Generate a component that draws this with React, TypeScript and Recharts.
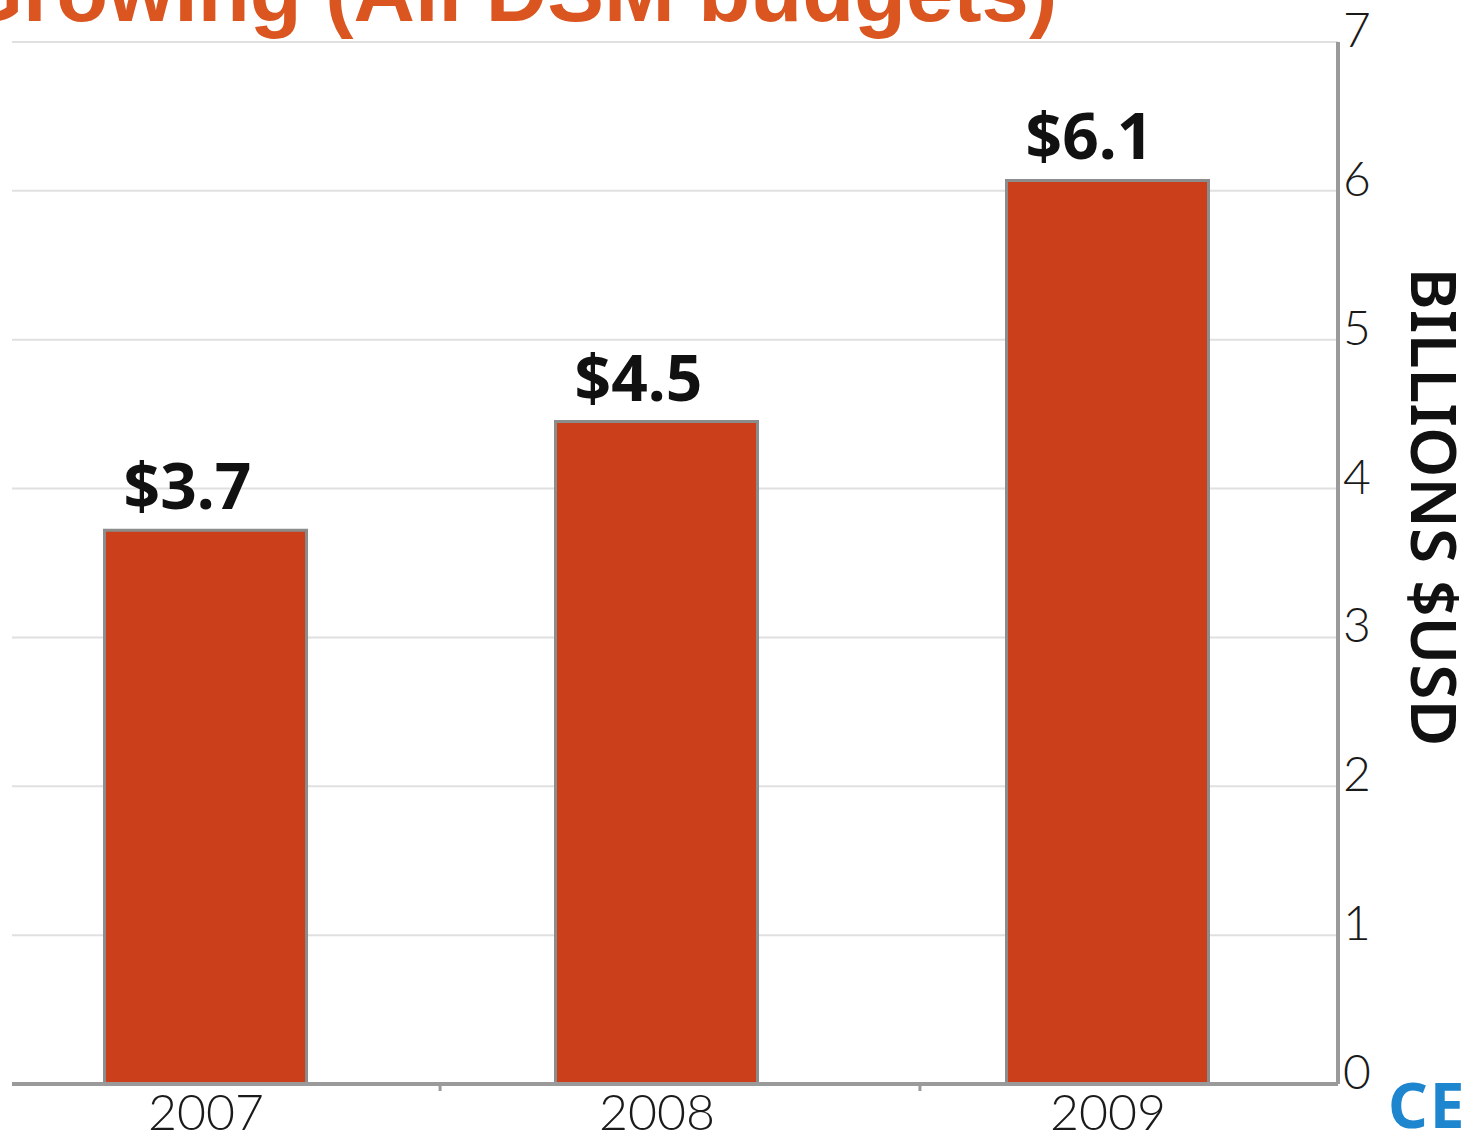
import { BarChart, Bar, XAxis, YAxis, CartesianGrid, LabelList } from "recharts";

// categories and their slot on the numeric x axis
const years = ["2007", "2008", "2009"];
const slots = [0, 1, 2];
// bar heights (billions $USD)
const budgets = [3.72, 4.45, 6.07];
const valueLabels = ["$3.7", "$4.5", "$6.1"];
// y axis ticks
const yTicks = [0, 1, 2, 3, 4, 5, 6, 7];
// small tick marks on the x axis line, between the bars
const minorTicks = [0.519, 1.583];

const data = years.map((year, i) => ({
    x: slots[i],
    year,
    value: budgets[i],
    label: valueLabels[i],
}));

const XTick = (props: any) => {
    const { x, y, payload } = props;
    const v = payload.value;
    const i = slots.indexOf(v);
    if (i < 0) {
        return <line x1={x} x2={x} y1={y} y2={y + 7} stroke="#9a9a9a" strokeWidth={3} />;
    }
    return (
        <text x={x} y={y + 46} textAnchor="middle" fontFamily="Lato" fontWeight={300} fontSize={50} fill="#1a1a1a">
            {years[i]}
        </text>
    );
};

const YTick = (props: any) => {
    const { x, y, payload } = props;
    return (
        <text x={x + 5} y={y + 5} textAnchor="start" fontFamily="Lato" fontWeight={300} fontSize={48} fill="#1a1a1a">
            {payload.value}
        </text>
    );
};

const ValueLabel = (props: any) => {
    const { x, y, width, index } = props;
    return (
        <text x={x + width / 2 - 18} y={y - 21} textAnchor="middle" fontFamily="Noto Sans" fontWeight={700} fontSize={64} fill="#111">
            {data[index].label}
        </text>
    );
};

const App = () => {
    return (
        <div style={{ position: "absolute", left: 0, top: 0, width: 1473, height: 1142, overflow: "hidden", background: "#fff" }}>
            <BarChart width={1473} height={1142} data={data} margin={{ top: 42, right: 0, left: 12, bottom: 0 }}>
                <CartesianGrid vertical={false} stroke="#e0e0e0" strokeWidth={2} />
                <XAxis
                    dataKey="x"
                    type="number"
                    domain={[-0.4302, 2.51]}
                    allowDataOverflow
                    ticks={[...slots, ...minorTicks].sort()}
                    interval={0}
                    height={58}
                    tickLine={false}
                    tickSize={0}
                    tickMargin={0}
                    tick={<XTick />}
                    axisLine={{ stroke: "#9a9a9a", strokeWidth: 4 }}
                />
                <YAxis
                    orientation="right"
                    domain={[0, 7]}
                    ticks={yTicks}
                    width={135}
                    tickLine={false}
                    tickSize={0}
                    tickMargin={0}
                    tick={<YTick />}
                    axisLine={{ stroke: "#9a9a9a", strokeWidth: 4 }}
                />
                <Bar dataKey="value" fill="#CB3F1A" stroke="#8c8c8c" strokeWidth={3} barSize={202} isAnimationActive={false}>
                    <LabelList dataKey="label" content={<ValueLabel />} />
                </Bar>
            </BarChart>
            <svg width={1473} height={1142} style={{ position: "absolute", left: 0, top: 0, pointerEvents: "none" }}>
                <text x={-43} y={21} fontFamily="Liberation Sans" fontWeight={700} fontSize={85} fill="#DA5520">
                    Growing (All DSM budgets)
                </text>
                <text
                    x={1411}
                    y={507}
                    transform="rotate(90, 1411, 507)"
                    textAnchor="middle"
                    fontFamily="Noto Sans"
                    fontWeight={600}
                    fontSize={64}
                    fill="#111"
                >
                    BILLIONS $USD
                </text>
                <text x={1388} y={1128} fontFamily="Noto Sans" fontWeight={700} fontSize={62} letterSpacing={2} fill="#1E86CF">
                    CE
                </text>
            </svg>
        </div>
    );
};

export default App;
